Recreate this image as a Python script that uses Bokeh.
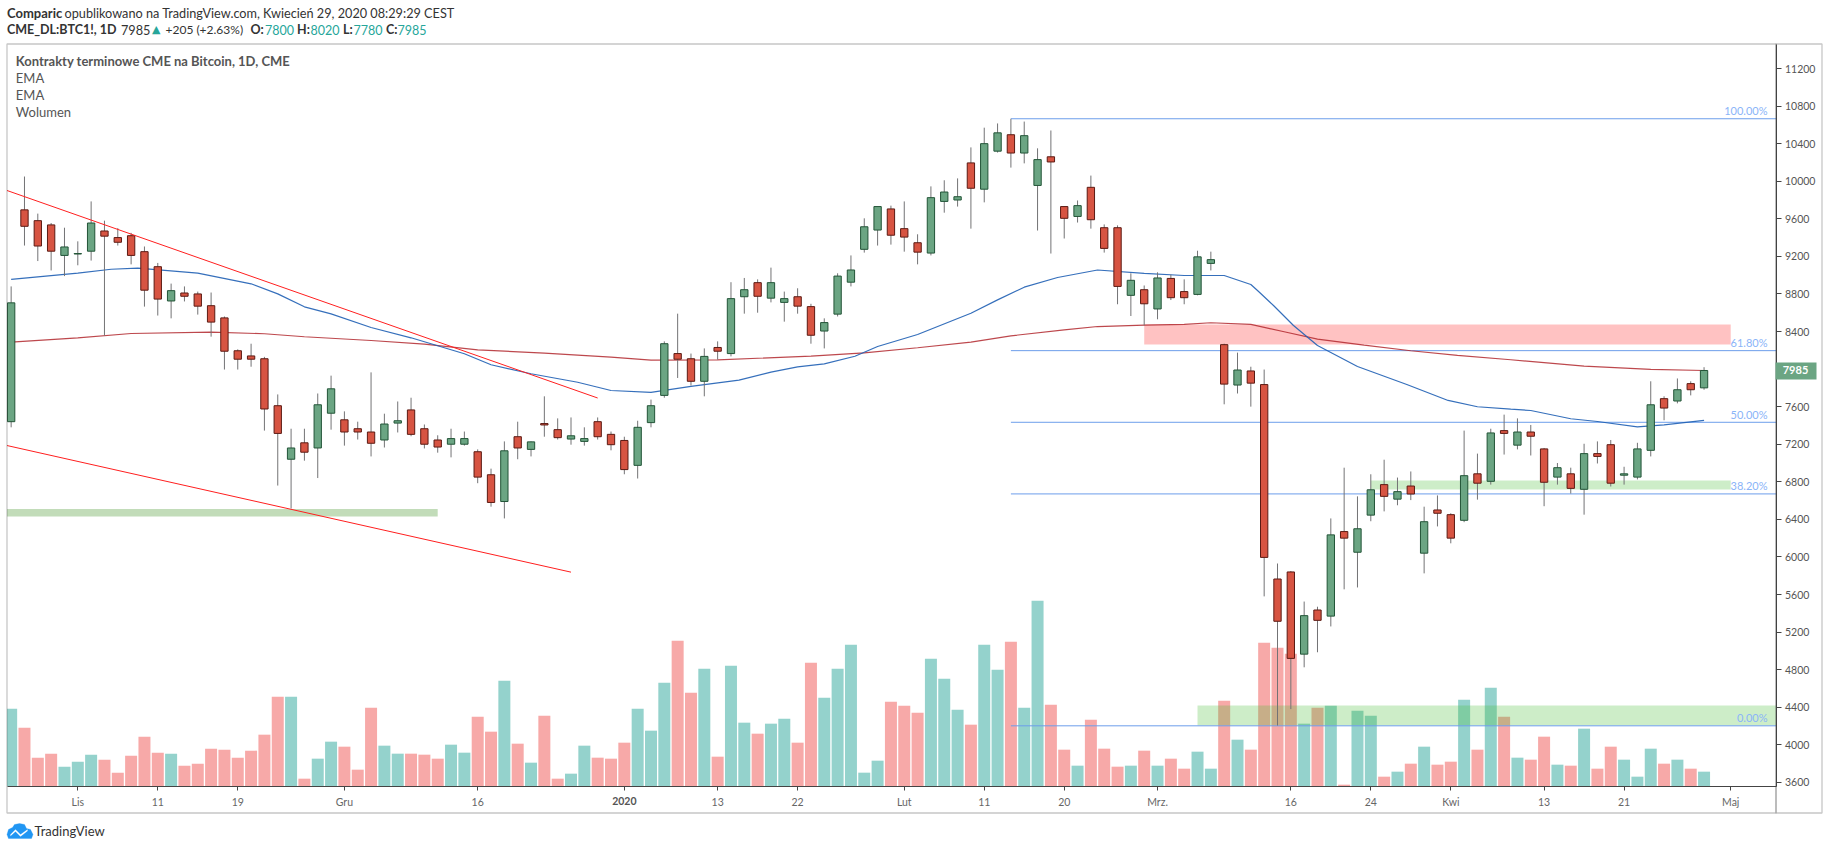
from bokeh.plotting import figure
from bokeh.models import (Range1d, FixedTicker, Label, BoxAnnotation, PolyAnnotation, ColumnDataSource)
from bokeh.embed import file_html
from bokeh.resources import INLINE

opens = [7440,9695,9580,9535,9210,9225,9255,9470,9400,9420,9250,9090,8725,8810,8800,8675,8545,8195,8140,8110,
         7610,7040,7215,7160,7530,7460,7365,7330,7245,7425,7565,7365,7245,7200,7200,7120,6875,6590,7280,7145,
         7420,7355,7255,7230,7440,7305,7240,6975,7430,7720,8165,8110,7870,8230,8165,8770,8920,8755,8710,8770,
         8665,8405,8585,8925,9275,9480,9705,9495,9345,9235,9785,9800,10195,9915,10320,10495,10300,9955,10260,9730,
         9625,9935,9505,9505,8785,8845,8640,8965,8825,8795,9125,8260,7830,7980,7835,5765,5840,4965,5435,5370,
         6270,6050,6445,6770,6615,6755,6040,6500,6450,6390,6885,6805,7345,7190,7330,7150,6850,6885,6720,7100,
         7195,6870,6850,7135,7685,7660,7845,7800]
highs = [8880,10050,9655,9555,9505,9360,9785,9580,9500,9450,9305,9130,8910,8880,8825,8815,8560,8210,8270,8130,
         7730,7365,7365,7740,7930,7550,7440,7965,7525,7655,7695,7410,7295,7365,7335,7145,6940,7230,7440,7230,
         7710,7475,7485,7380,7485,7335,7280,7450,7675,8295,8590,8165,8220,8295,8925,8970,8955,9080,8825,8860,
         8695,8540,9020,9210,9605,9730,9740,9785,9435,9945,10010,10030,10360,10570,10615,10665,10635,10350,10540,9730,
         9795,10060,9540,9530,9020,8890,9030,9005,8955,9260,9250,8270,8175,8025,7995,5930,5850,5525,5470,6410,
         6950,6645,6880,7035,6845,6910,6535,6655,6465,7345,7100,7365,7515,7475,7405,7160,7000,6950,7205,7230,
         7245,6960,7215,7870,7710,7900,7870,8020]
lows = [7380,9315,9150,9050,8990,9105,9155,8355,9315,9115,8665,8570,8540,8720,8580,8345,7995,7995,8025,7345,
        6760,6515,7025,6840,7355,7185,7250,7070,7165,7325,7285,7155,7110,7060,7185,6785,6535,6410,7040,7070,
        7280,7250,7195,7185,7250,7135,6880,6835,7380,7695,7905,7825,7710,8100,8135,8590,8600,8710,8505,8590,
        8270,8220,8560,8880,9240,9315,9325,9250,9115,9210,9665,9730,9495,9775,10305,10145,10190,9475,9230,9390,
        9560,9495,9240,8690,8565,8465,8530,8735,8690,8785,9050,7625,7740,7600,5580,4205,4380,4825,4985,5260,
        5655,5675,6380,6485,6550,6605,5825,6325,6145,6370,6610,6770,7090,7145,7080,6540,6770,6675,6450,6995,
        6750,6770,6825,7070,7455,7635,7720,7780]
closes = [8705,9520,9310,9255,9300,9230,9555,9415,9350,9210,8840,8745,8835,8775,8670,8500,8190,8105,8105,7575,
          7315,7160,7115,7620,7790,7330,7330,7210,7415,7450,7305,7200,7170,7260,7260,6850,6580,7130,7160,7225,
          7405,7270,7290,7260,7280,7195,6930,7380,7610,8270,8105,7870,8135,8190,8750,8845,8775,8920,8750,8670,
          8360,8495,8990,9055,9515,9730,9425,9405,9245,9825,9885,9835,9925,10400,10515,10300,10485,10230,10205,9605,
          9740,9590,9285,8880,8945,8695,8970,8760,8760,9195,9165,7840,7990,7850,5995,5315,4920,5375,5325,6235,
          6200,6300,6715,6645,6695,6670,6375,6465,6200,6865,6785,7320,7315,7330,7285,6795,6950,6730,7100,7070,
          6785,6885,7150,7620,7585,7780,7780,7985]
volumes = [232,175,85,97,58,73,94,79,40,91,148,100,97,61,67,112,109,85,106,154,
           268,268,22,82,133,118,49,235,121,97,97,94,82,124,100,208,163,316,127,70,
           211,22,37,121,85,82,130,232,166,310,436,280,352,88,361,190,157,187,202,130,
           370,265,352,424,40,76,253,241,220,382,322,229,184,424,349,433,235,556,244,109,
           61,199,112,58,61,106,61,82,52,103,52,256,139,109,430,415,397,187,235,241,
           4,226,211,28,43,67,118,64,73,259,109,295,208,85,79,148,64,61,172,52,
           118,79,28,112,67,79,52,43]

ema_slow_idx = [0,5,9,15,19,22,27,31,35,40,45,48,53,60,64,68,72,75,79,81.5,85,88,90,93,95.5,98,101.5,105,108.5,112.5,118,123,127]
ema_slow = [8286,8333,8379,8393,8376,8344,8304,8265,8205,8169,8127,8095,8099,8137,8173,8227,8286,8354,8418,8453,8467,8475,8493,8475,8397,8318,8254,8195,8145,8099,8031,7996,7985]
ema_fast_idx = [0,5,7.5,9.5,14,18,20,22,24,27,30,34,36,39,42.5,45,48,51,54.6,57,59,61,63.3,65,68,72,74,76,78.5,81.5,85,88,91,93,93.5,94.7,96.2,98,101,104.7,107.8,110,112.5,114,117,119,122,124,127]
ema_fast = [8954,9021,9063,9074,9021,8908,8801,8663,8588,8443,8333,8163,8046,7950,7860,7772,7751,7815,7883,7967,8024,8056,8137,8240,8368,8595,8737,8872,8975,9055,9018,8996,8996,8900,8836,8677,8464,8251,8027,7836,7666,7599,7573,7559,7471,7442,7385,7406,7453]

fib_pcts = [100.0, 61.8, 50.0, 38.2, 0.0]
fib_high, fib_low = 10665, 4202
fib_start = 75

trend_upper_idx, trend_upper = [-0.31, 44], [9901, 7692]
trend_lower_idx, trend_lower = [-0.31, 42], [7186, 5838]

price_ticks = list(range(3600, 11201, 400))
time_tick_idx = [5, 11, 17, 25, 35, 46, 53, 59, 67, 73, 79, 86, 96, 102, 108, 115, 121, 129]
time_tick_txt = ["Lis", "11", "19", "Gru", "16", "", "13", "22", "Lut", "11", "20", "Mrz.", "16", "24", "Kwi", "13", "21", "Maj"]
year_idx, year_txt = 46, "2020"

W, H = 1828, 849
FONT = "Lato"
GREEN, RED = "#6ba583", "#d75442"
GREEN_E, RED_E = "#225437", "#5b1a13"
GRAY = "#555555"
TEAL = "#26a69a"
BORDER = "#444444"

# canvas geometry: the plot frame fills the page so texts around the pane are not clipped
BAR, X0 = 13.33, 10.65
PX_PER_PRICE, Y11200 = 0.09393, 68.0
PANE_L, PANE_R, PANE_T, PANE_B, OUT_R, OUT_B = 6.5, 1775.5, 43.5, 785.5, 1821.5, 812.5


def idx_at(x):
    return (x - X0) / BAR


def price_at(y):
    return 11200 - (y - Y11200) / PX_PER_PRICE


I_RIGHT = idx_at(PANE_R)
# zones: left index, right index, top price, bottom price
zone_green_left = (idx_at(PANE_L), 32, 6510, 6430)
zone_green_mid = (102, 129, 6814, 6718)
zone_green_low = (89, I_RIGHT, 4418, 4206)
zone_red = (85, 129, 8475, 8262)

n = len(opens)
idx = list(range(n))
up = [c >= o for o, c in zip(opens, closes)]
src = ColumnDataSource(dict(
    x=idx, o=opens, h=highs, l=lows, c=closes, v=volumes,
    top=[max(a, b) for a, b in zip(opens, closes)],
    bot=[min(a, b) for a, b in zip(opens, closes)],
    fill=[GREEN if u else RED for u in up],
    edge=[GREEN_E if u else RED_E for u in up],
    vcol=["#94d2cc" if u else "#f7a9a8" for u in up],
))

p = figure(width=W, height=H, output_backend="svg", toolbar_location=None,
           x_range=Range1d(idx_at(0), idx_at(W)), y_range=Range1d(price_at(H), price_at(0)),
           y_axis_location="right", min_border=0, outline_line_color=None)
p.xgrid.visible = False
p.ygrid.visible = False
p.extra_y_ranges = {"vol": Range1d(-(H - PANE_B) * 3, PANE_B * 3)}

ax = p.yaxis[0]
ax.fixed_location = I_RIGHT
ax.bounds = (price_at(PANE_B), price_at(PANE_T))
ax.ticker = FixedTicker(ticks=price_ticks)
ax.major_label_text_font = FONT
ax.major_label_text_font_size = "10.5px"
ax.major_label_text_color = GRAY
ax.axis_line_color = BORDER
ax.major_tick_line_color = BORDER
ax.major_tick_out = 5
ax.major_tick_in = 0
ax.minor_tick_line_color = None
ax.major_label_standoff = 4

bx = p.xaxis[0]
bx.fixed_location = price_at(PANE_B)
bx.bounds = (idx_at(PANE_L), I_RIGHT)
bx.ticker = FixedTicker(ticks=time_tick_idx)
bx.major_label_overrides = {i: t for i, t in zip(time_tick_idx, time_tick_txt)}
bx.major_label_text_font = FONT
bx.major_label_text_font_size = "10.5px"
bx.major_label_text_color = "#666666"
bx.axis_line_color = BORDER
bx.major_tick_line_color = BORDER
bx.major_tick_out = 4
bx.major_tick_in = 0
bx.minor_tick_line_color = None
bx.major_label_standoff = 6

# volume
p.vbar(x="x", top="v", bottom=0, width=0.9, fill_color="vcol", line_color=None, y_range_name="vol", source=src)

# zones
for z, col, a in [(zone_green_left, "#8fbf7f", 0.55), (zone_green_mid, "#46be34", 0.27),
                  (zone_green_low, "#46be34", 0.27), (zone_red, "#ff0000", 0.24)]:
    p.quad(left=[z[0]], right=[z[1]], top=[z[2]], bottom=[z[3]], fill_color=col, fill_alpha=a, line_color=None)

# fib levels
fib_prices = [fib_low + (fib_high - fib_low) * q / 100 for q in fib_pcts]
p.segment(x0=[fib_start] * 5, x1=[I_RIGHT] * 5, y0=fib_prices, y1=fib_prices, line_color="#6d9eeb", line_width=1)

# EMAs
p.line(ema_slow_idx, ema_slow, line_color="#b2282e", line_width=1.2, line_alpha=0.85)
p.line(ema_fast_idx, ema_fast, line_color="#1f5fb4", line_width=1.2, line_alpha=0.9)

# candles
p.segment(x0="x", x1="x", y0="l", y1="h", line_color="#737375", line_width=1, source=src)
p.vbar(x="x", top="top", bottom="bot", width=0.55, fill_color="fill", line_color="edge", line_width=1, source=src)

# trend lines
p.line(trend_upper_idx, trend_upper, line_color="#ff1f1f", line_width=1)
p.line(trend_lower_idx, trend_lower, line_color="#ff1f1f", line_width=1)


def box(l, r, t, b, **kw):
    p.add_layout(BoxAnnotation(left=l, right=r, top=t, bottom=b, left_units="canvas", right_units="canvas",
                               top_units="canvas", bottom_units="canvas", **kw))


# mask what falls left of the pane, then the pane's frame
box(0, PANE_L, PANE_T, PANE_B, fill_color="white", fill_alpha=1, line_color=None)
box(PANE_L, PANE_R, PANE_T, OUT_B, fill_alpha=0, line_color=BORDER, line_width=1.3)
box(PANE_R, OUT_R, PANE_T, OUT_B, fill_alpha=0, line_color=BORDER, line_width=1.3)


def ctext(x, y, s, color="#333333", size=12.7, bold=False, font=FONT, align="left"):
    p.add_layout(Label(x=x, y=H - y, x_units="screen", y_units="screen", text=s, text_color=color,
                       text_font=font, text_font_size=f"{size}px", text_align=align,
                       text_baseline="middle", text_font_style="bold" if bold else "normal"))


ctext(6.5, 12.3, "Comparic", bold=True, size=13)
ctext(64, 12.3, "opublikowano na TradingView.com, Kwiecień 29, 2020 08:29:29 CEST")
ctext(6.5, 29.3, "CME_DL:BTC1!, 1D", bold=True, size=12.5)
ctext(120.5, 29.3, "7985")
ctext(151.5, 29.3, "▲", color=TEAL, size=11, font="DejaVu Sans")
ctext(165, 29.3, "+205 (+2.63%)", size=12)
for lx, lab, vx, val in [(250, "O:", 264.5, "7800"), (296.6, "H:", 310, "8020"),
                         (342.5, "L:", 353, "7780"), (385.4, "C:", 397, "7985")]:
    ctext(lx, 29.3, lab, bold=True, size=12.5)
    ctext(vx, 29.3, val, color=TEAL, size=12.5)

ctext(15.3, 60, "Kontrakty terminowe CME na Bitcoin, 1D, CME", bold=True, color=GRAY, size=13)
ctext(15.3, 77.3, "EMA", color=GRAY, size=13)
ctext(15.3, 94.7, "EMA", color=GRAY, size=13)
ctext(15.3, 111.3, "Wolumen", color=GRAY, size=13)
ctext(34, 830, "TradingView", color="#333333", size=13)

# bold year tick text
ctext(X0 + BAR * year_idx, 800, year_txt, color=GRAY, size=10.5, bold=True, align="center")

# fib percent labels
for q, price in zip(fib_pcts, fib_prices):
    p.add_layout(Label(x=1767, y=price, x_units="screen", y_units="data", text=f"{q:.2f}%",
                       text_color="#8ab4f8", text_font=FONT, text_font_size="11px", text_align="right",
                       text_baseline="middle", y_offset=8))

# last price tag
box(1775, 1816, 362, 379, fill_color=GREEN, fill_alpha=1, line_color=None)
p.add_layout(Label(x=1795, y=closes[-1], x_units="screen", y_units="data", text=str(closes[-1]),
                   text_color="white", text_font=FONT, text_font_size="11px", text_font_style="bold",
                   text_align="center", text_baseline="middle"))

# logo cloud
cloud_x = [6.5, 8, 12, 14, 19, 24, 26, 30, 32.5, 31, 8]
cloud_y = [834, 829, 827, 824, 823, 824, 828, 829, 834, 838, 838]
p.add_layout(PolyAnnotation(xs=cloud_x, ys=cloud_y, xs_units="canvas", ys_units="canvas",
                            fill_color="#2196f3", fill_alpha=1, line_color="#2196f3"))
p.add_layout(PolyAnnotation(xs=[10, 15, 20, 27, 27, 20, 15, 10], ys=[834, 829, 834, 829, 830.5, 836, 831, 835.5],
                            xs_units="canvas", ys_units="canvas", fill_color="white", fill_alpha=1,
                            line_color="white", line_width=0.5))

open("out.html", "w").write(file_html(p, INLINE))
